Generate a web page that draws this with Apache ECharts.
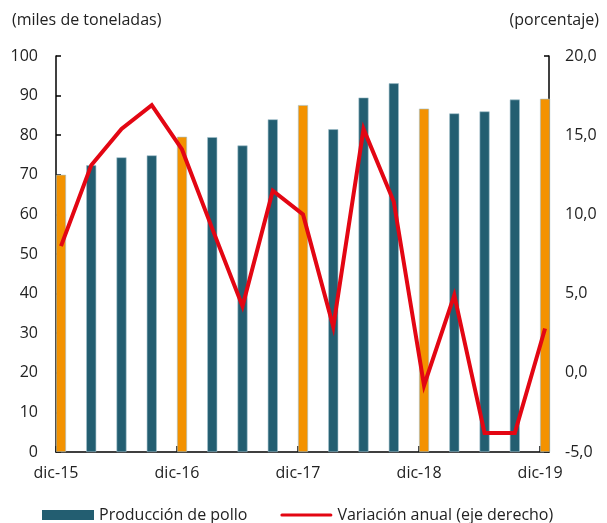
<!DOCTYPE html>
<html>
<head>
<meta charset="utf-8">
<script src="https://cdn.jsdelivr.net/npm/echarts@6/dist/echarts.min.js"></script>
<style>
  html, body { margin: 0; padding: 0; background: #fff; }
  #grafico { width: 607px; height: 523px; }
</style>
</head>
<body>
<div id="grafico"></div>
<script>
// trimestres dic-15 ... dic-19
const trimestres = ['dic-15', 'mar-16', 'jun-16', 'sep-16', 'dic-16', 'mar-17', 'jun-17', 'sep-17',
  'dic-17', 'mar-18', 'jun-18', 'sep-18', 'dic-18', 'mar-19', 'jun-19', 'sep-19', 'dic-19']
const etiquetasEje = ['dic-15', 'dic-16', 'dic-17', 'dic-18', 'dic-19']
const produccion = [70.0, 72.4, 74.4, 74.9, 79.6, 79.5, 77.4, 84.0, 87.6, 81.5, 89.5, 93.1, 86.7, 85.5, 86.0, 89.0, 89.2]
const variacion = [8.0, 13.1, 15.4, 16.9, 14.1, 9.1, 4.2, 11.5, 10.0, 2.9, 15.4, 10.8, -0.8, 4.9, -3.8, -3.8, 2.8]
const ticksIzq = [0, 100, 10]
const ticksDer = [-5, 20, 5]

const fuente = '"Open Sans", sans-serif'
const colorBarra = '#235e71'
const colorDic = '#f39200'
const colorLinea = '#e30613'
// la barra arranca en la marca del eje, el centro queda un poco a la derecha
const desplaza = 0.165

const miGrafico = echarts.init(document.getElementById('grafico'))

const datosBarras = produccion.map((v, i) => ({
  value: [i + desplaza, v],
  itemStyle: { color: trimestres[i].startsWith('dic') ? colorDic : colorBarra }
}))
const datosLinea = variacion.map((v, i) => [i + desplaza, v])

const opciones = {
  animation: false,
  textStyle: { fontFamily: fuente },
  grid: { left: 56, right: 58, top: 56, bottom: 71, containLabel: false },
  legend: {
    left: 37,
    top: 502,
    itemWidth: 52,
    itemHeight: 10,
    itemGap: 33,
    symbolKeepAspect: true,
    textStyle: { fontFamily: fuente, fontSize: 16, color: '#222' },
    data: [
      { name: 'Producción de pollo', icon: 'rect', itemStyle: { color: colorBarra, borderWidth: 0 } },
      { name: 'Variación anual (eje derecho)', icon: 'path://M1.5,0 L50.5,0 A1.5,1.5 0 0 1 50.5,3 L1.5,3 A1.5,1.5 0 0 1 1.5,0 Z', itemStyle: { color: colorLinea } }
    ]
  },
  graphic: [
    { type: 'text', left: 12, top: 12, style: { text: '(miles de toneladas)', font: '16px ' + fuente, fill: '#222' } },
    { type: 'text', right: 8, top: 12, style: { text: '(porcentaje)', font: '16px ' + fuente, fill: '#222' } }
  ],
  xAxis: {
    type: 'value',
    min: 0,
    max: trimestres.length - 1 + desplaza * 2 - 0.035,
    interval: 4,
    splitLine: { show: false },
    axisLine: { show: true, lineStyle: { color: '#000', width: 1.5 } },
    axisTick: { show: true, inside: true, length: 6, lineStyle: { color: '#000', width: 1.5 } },
    axisLabel: {
      showMaxLabel: false,
      margin: 13,
      fontSize: 16,
      color: '#222',
      formatter: v => {
        const k = Math.round(v / 4)
        return Math.abs(v - k * 4) < 1e-6 ? (etiquetasEje[k] || '') : ''
      }
    }
  },
  yAxis: [
    {
      type: 'value',
      min: ticksIzq[0],
      max: ticksIzq[1],
      interval: ticksIzq[2],
      splitLine: { show: false },
      axisLine: { show: true, lineStyle: { color: '#000', width: 1.5 } },
      axisTick: { show: true, inside: true, length: 5, lineStyle: { color: '#000', width: 1.5 } },
      axisLabel: { margin: 18, fontSize: 16, color: '#222' }
    },
    {
      type: 'value',
      min: ticksDer[0],
      max: ticksDer[1],
      interval: ticksDer[2],
      splitLine: { show: false },
      axisLine: { show: true, lineStyle: { color: '#000', width: 1.5 } },
      axisTick: { show: true, inside: true, length: 5, lineStyle: { color: '#000', width: 1.5 } },
      axisLabel: {
        margin: 16,
        fontSize: 16,
        color: '#222',
        formatter: v => v.toFixed(1).replace('.', ',')
      }
    }
  ],
  series: [
    {
      name: 'Producción de pollo',
      type: 'bar',
      yAxisIndex: 0,
      barWidth: 10,
      data: datosBarras,
      itemStyle: { color: colorBarra, borderColor: '#9fbfcb', borderWidth: 0.6 }
    },
    {
      name: 'Variación anual (eje derecho)',
      type: 'line',
      yAxisIndex: 1,
      symbol: 'none',
      data: datosLinea,
      lineStyle: { color: colorLinea, width: 4, join: 'miter' },
      itemStyle: { color: colorLinea },
      z: 5
    }
  ]
}

miGrafico.setOption(opciones)
</script>
</body>
</html>
